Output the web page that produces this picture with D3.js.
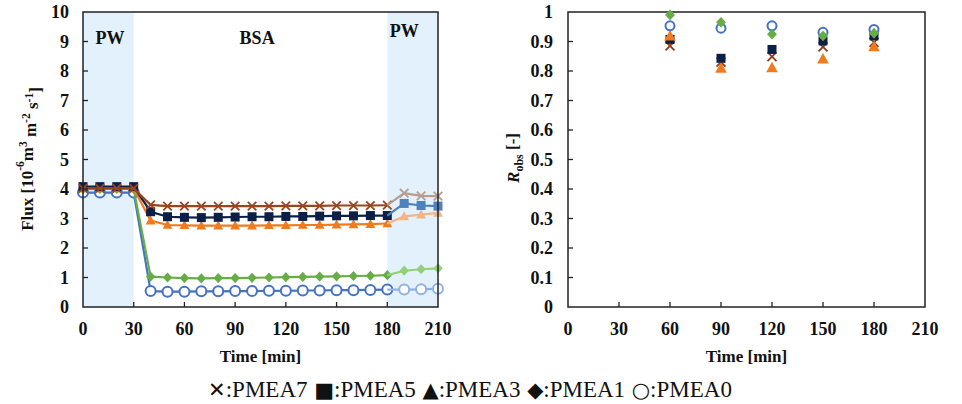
<!DOCTYPE html>
<html>
<head>
<meta charset="utf-8">
<script src="https://cdn.jsdelivr.net/npm/d3@7/dist/d3.min.js"></script>
<style>
  html, body { margin: 0; padding: 0; background: #fff; }
  svg { display: block; }
  text { font-family: "Liberation Serif", "Times New Roman", serif; fill: #111; }
  .tick-label { font-size: 18px; font-weight: bold; }
  .axis-title { font-size: 17px; font-weight: bold; }
</style>
</head>
<body>
<svg id="chart" width="962" height="404"></svg>
<script>
// ---- Flux data (left panel) ----
const fluxTime = [0, 10, 20, 30, 40, 50, 60, 70, 80, 90, 100, 110, 120, 130, 140, 150, 160, 170, 180, 190, 200, 210];
const fluxPMEA7 = [4.02, 4.02, 4.02, 4.02, 3.46, 3.42, 3.42, 3.42, 3.42, 3.42, 3.42, 3.42, 3.43, 3.43, 3.43, 3.44, 3.44, 3.44, 3.45, 3.86, 3.77, 3.76];
const fluxPMEA5 = [4.08, 4.08, 4.08, 4.08, 3.23, 3.06, 3.04, 3.03, 3.04, 3.05, 3.06, 3.06, 3.07, 3.07, 3.08, 3.09, 3.09, 3.10, 3.10, 3.51, 3.44, 3.42];
const fluxPMEA3 = [4.02, 4.02, 4.02, 4.02, 2.93, 2.78, 2.77, 2.76, 2.76, 2.76, 2.76, 2.77, 2.77, 2.78, 2.78, 2.79, 2.80, 2.81, 2.83, 3.07, 3.13, 3.19];
const fluxPMEA1 = [4.00, 4.00, 4.00, 4.00, 1.03, 1.00, 0.98, 0.97, 0.98, 0.98, 0.99, 1.00, 1.01, 1.02, 1.03, 1.04, 1.05, 1.06, 1.08, 1.23, 1.28, 1.31];
const fluxPMEA0 = [3.88, 3.88, 3.88, 3.88, 0.54, 0.52, 0.52, 0.53, 0.53, 0.54, 0.54, 0.55, 0.55, 0.56, 0.56, 0.57, 0.57, 0.58, 0.59, 0.59, 0.60, 0.62];

// ---- Observed rejection data (right panel) ----
const robsTime = [60, 90, 120, 150, 180];
const robsPMEA7 = [0.885, 0.830, 0.849, 0.882, 0.897];
const robsPMEA5 = [0.907, 0.843, 0.873, 0.902, 0.919];
const robsPMEA3 = [0.919, 0.809, 0.811, 0.841, 0.882];
const robsPMEA1 = [0.990, 0.965, 0.925, 0.919, 0.928];
const robsPMEA0 = [0.953, 0.945, 0.953, 0.931, 0.941];

// ---- Phases and ticks ----
const phaseBands = [[0, 30], [180, 210]];
const phaseLabels = ["PW", "BSA", "PW"];
const phaseLabelTimes = [16, 103, 190];
const timeTicks = [0, 30, 60, 90, 120, 150, 180, 210];
const fluxTicks = [0, 1, 2, 3, 4, 5, 6, 7, 8, 9, 10];
const robsTicks = [0, 0.1, 0.2, 0.3, 0.4, 0.5, 0.6, 0.7, 0.8, 0.9, 1];
const seriesNames = ["PMEA7", "PMEA5", "PMEA3", "PMEA1", "PMEA0"];
const legendSymbols = ["\u2715", "\u25A0", "\u25B2", "\u25C6", "\u25CB"];

// index where the final pure-water phase starts (t = 180)
const splitIdx = fluxTime.indexOf(180);

const styles = {
  PMEA7: { marker: "cross",    dark: "#9a4520", light: "#b89c8c" },
  PMEA5: { marker: "square",   dark: "#0c1f46", light: "#4f82bd" },
  PMEA3: { marker: "triangle", dark: "#f07b1d", light: "#f2b489" },
  PMEA1: { marker: "diamond",  dark: "#67ad45", light: "#93d07a" },
  PMEA0: { marker: "circle",   dark: "#4472c4", light: "#8fb2e2" }
};
const fluxData = { PMEA7: fluxPMEA7, PMEA5: fluxPMEA5, PMEA3: fluxPMEA3, PMEA1: fluxPMEA1, PMEA0: fluxPMEA0 };
const robsData = { PMEA7: robsPMEA7, PMEA5: robsPMEA5, PMEA3: robsPMEA3, PMEA1: robsPMEA1, PMEA0: robsPMEA0 };

const SERIF = "'Liberation Serif', 'Times New Roman', serif";
const svg = d3.select("#chart");

// draws one marker of a given kind centred at (0,0)
function drawMarker(g, kind, color, size) {
  const s = size;
  if (kind === "cross") {
    g.append("path").attr("d", `M${-s/2},${-s/2}L${s/2},${s/2}M${-s/2},${s/2}L${s/2},${-s/2}`)
      .attr("stroke", color).attr("stroke-width", 1.8).attr("fill", "none");
  } else if (kind === "square") {
    g.append("rect").attr("x", -s/2).attr("y", -s/2).attr("width", s).attr("height", s).attr("fill", color);
  } else if (kind === "triangle") {
    g.append("path").attr("d", `M0,${-s*0.6}L${s*0.58},${s*0.45}L${-s*0.58},${s*0.45}Z`).attr("fill", color);
  } else if (kind === "diamond") {
    g.append("path").attr("d", `M0,${-s*0.6}L${s*0.55},0L0,${s*0.6}L${-s*0.55},0Z`).attr("fill", color);
  } else if (kind === "circle") {
    g.append("circle").attr("r", s/2).attr("fill", "#fff").attr("stroke", color).attr("stroke-width", 2);
  }
}

function frame(g, x, y, xTicks, yTicks, yFmt, labelGap) {
  const [x0, x1] = x.range();
  const [y0, y1] = y.range();
  // inward tick marks
  g.append("g").selectAll("line").data(xTicks.slice(1, -1)).join("line")
    .attr("x1", d => x(d)).attr("x2", d => x(d)).attr("y1", y0).attr("y2", y0 - 5)
    .attr("stroke", "#222").attr("stroke-width", 1.3);
  g.append("g").selectAll("line").data(yTicks.slice(1, -1)).join("line")
    .attr("x1", x0).attr("x2", x0 + 5).attr("y1", d => y(d)).attr("y2", d => y(d))
    .attr("stroke", "#222").attr("stroke-width", 1.3);
  // box
  g.append("rect").attr("x", x0).attr("y", y1).attr("width", x1 - x0).attr("height", y0 - y1)
    .attr("fill", "none").attr("stroke", "#222").attr("stroke-width", 1.5);
  // tick labels
  g.append("g").selectAll("text").data(xTicks).join("text").attr("class", "tick-label")
    .attr("x", d => x(d)).attr("y", y0 + 28).attr("text-anchor", "middle").text(d => d);
  g.append("g").selectAll("text").data(yTicks).join("text").attr("class", "tick-label")
    .attr("x", x0 - labelGap).attr("y", d => y(d)).attr("dy", "0.35em").attr("text-anchor", "end")
    .text(yFmt);
  // x title
  g.append("text").attr("class", "axis-title").attr("x", (x0 + x1) / 2).attr("y", y0 + 55)
    .attr("text-anchor", "middle").text("Time [min]");
}

// ================= Left panel: flux =================
const xL = d3.scaleLinear().domain([0, 210]).range([83, 438]);
const yL = d3.scaleLinear().domain([0, 10]).range([307, 12]);
const gL = svg.append("g");

gL.selectAll("rect.band").data(phaseBands).join("rect").attr("class", "band")
  .attr("x", d => xL(d[0])).attr("width", d => xL(d[1]) - xL(d[0]))
  .attr("y", yL(10)).attr("height", yL(0) - yL(10)).attr("fill", "#e2f1fb");

gL.selectAll("text.phase").data(phaseLabels).join("text").attr("class", "phase")
  .attr("x", (d, i) => xL(phaseLabelTimes[i]))
  .attr("y", (d, i) => i === 2 ? 37 : 44)
  .attr("text-anchor", "middle").attr("font-size", 18).attr("font-weight", "bold").text(d => d);

const line = d3.line().x(d => xL(d[0])).y(d => yL(d[1]));

// draw order: circles at the back, crosses in front
const fluxOrder = ["PMEA0", "PMEA1", "PMEA3", "PMEA5", "PMEA7"];
fluxOrder.forEach(name => {
  const st = styles[name];
  const pts = fluxTime.map((t, i) => [t, fluxData[name][i]]);
  const main = pts.slice(0, splitIdx + 1);
  const tail = pts.slice(splitIdx);
  const sz = name === "PMEA0" ? 10 : name === "PMEA5" ? 9 : 8.5;
  gL.append("path").attr("d", line(main)).attr("fill", "none").attr("stroke", st.dark).attr("stroke-width", 2.2);
  main.forEach(p => drawMarker(gL.append("g").attr("transform", `translate(${xL(p[0])},${yL(p[1])})`), st.marker, st.dark, sz));
  gL.append("path").attr("d", line(tail)).attr("fill", "none").attr("stroke", st.light).attr("stroke-width", 2.2);
  tail.slice(1).forEach(p => drawMarker(gL.append("g").attr("transform", `translate(${xL(p[0])},${yL(p[1])})`), st.marker, st.light, sz));
});

frame(gL, xL, yL, timeTicks, fluxTicks, d => d, 14);

const fluxTitle = gL.append("text").attr("class", "axis-title").attr("font-size", 17.5)
  .attr("transform", "translate(27,159) rotate(-90)").attr("text-anchor", "middle").attr("dy", "0.35em");
fluxTitle.append("tspan").text("Flux [10");
fluxTitle.append("tspan").attr("font-size", 11.5).attr("dy", "-0.75em").text("-6");
fluxTitle.append("tspan").attr("dy", "0.5em").text("m");
fluxTitle.append("tspan").attr("font-size", 11.5).attr("dy", "-0.5em").text("3");
fluxTitle.append("tspan").attr("dy", "0.5em").text(" m");
fluxTitle.append("tspan").attr("font-size", 11.5).attr("dy", "-0.5em").text("-2");
fluxTitle.append("tspan").attr("dy", "0.5em").text(" s");
fluxTitle.append("tspan").attr("font-size", 11.5).attr("dy", "-0.5em").text("-1");
fluxTitle.append("tspan").attr("dy", "0.5em").text("]");

// ================= Right panel: rejection =================
const xR = d3.scaleLinear().domain([0, 210]).range([568, 925]);
const yR = d3.scaleLinear().domain([0, 1]).range([307, 12]);
const gR = svg.append("g");

frame(gR, xR, yR, timeTicks, robsTicks, d => d === 0 || d === 1 ? String(d) : d3.format(".1f")(d), 15);

const robsOrder = ["PMEA7", "PMEA5", "PMEA3", "PMEA0", "PMEA1"];
robsOrder.forEach(name => {
  const st = styles[name];
  robsTime.forEach((t, i) => {
    drawMarker(gR.append("g").attr("transform", `translate(${xR(t)},${yR(robsData[name][i])})`),
      st.marker, name === "PMEA7" ? "#8a3d1a" : st.dark, name === "PMEA3" ? 10 : 9);
  });
});

const robsTitle = gR.append("text").attr("class", "axis-title")
  .attr("transform", "translate(513,158) rotate(-90)").attr("text-anchor", "middle").attr("dy", "0.35em");
robsTitle.append("tspan").attr("font-style", "italic").text("R");
robsTitle.append("tspan").attr("font-size", 12).attr("dy", "0.35em").text("obs");
robsTitle.append("tspan").attr("dy", "-0.3em").text(" [-]");

// ================= Legend =================
const legend = svg.append("text").attr("x", 470).attr("y", 397).attr("text-anchor", "middle")
  .attr("font-size", 23).style("font-family", SERIF).style("fill", "#111");
seriesNames.forEach((n, i) => {
  legend.append("tspan").style("font-family", "'DejaVu Sans', sans-serif").attr("font-size", 21)
    .text((i ? " " : "") + legendSymbols[i]);
  legend.append("tspan").style("font-family", SERIF).text(":" + n);
});
</script>
</body>
</html>
